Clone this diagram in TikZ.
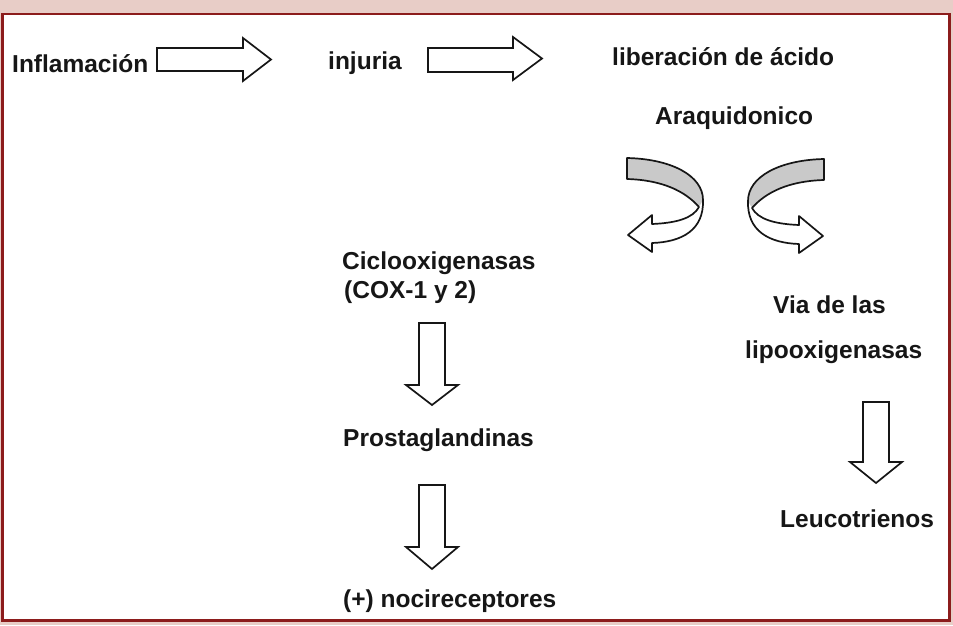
\documentclass[tikz,border=0pt]{standalone}
\usepackage{fontspec}
\setmainfont{Liberation Sans}
\usetikzlibrary{positioning}

\definecolor{marco}{HTML}{8C1C1C}
\definecolor{fondo}{HTML}{E8CDC7}
\definecolor{cinta}{HTML}{C9C9C9}
\definecolor{tinta}{HTML}{161616}

\tikzset{
  etiqueta/.style={anchor=base west, inner sep=0pt, text=tinta,
    font=\fontsize{24.5pt}{29pt}\selectfont\bfseries},
  bloque/.style={draw=tinta, line width=1.7pt, fill=white, line join=miter},
  giro/.style={draw=tinta, line width=1.7pt, line join=round}
}

\begin{document}
\begin{tikzpicture}[x=1pt, y=-1pt]
    \useasboundingbox (0,0) rectangle (953,625);
    % background and frame
    \fill[fondo] (0,0) rectangle (953,625);
    \draw[marco, line width=2.5pt, fill=white] (2.5,14) rectangle (949.5,620.5);

    % top row
    \node[etiqueta] (infl) at (12,72) {Inflamación};
    \node[etiqueta] (inj) at (328,69) {injuria};
    \node[etiqueta] (lib) at (612,65) {liberación de ácido};
    \node[etiqueta] (ara) at (655,124) {Araquidonico};

    % block arrows to the right
    \coordinate (a1) at (157,48);
    \draw[bloque] (a1) -- ++(86,0) -- ++(0,-10) -- ++(28,21.5) -- ++(-28,21.5)
        -- ++(0,-10) -- ++(-86,0) -- cycle;
    \coordinate (a2) at (428,48);
    \draw[bloque] (a2) -- ++(85,0) -- ++(0,-11) -- ++(29,21.5) -- ++(-29,21.5)
        -- ++(0,-8) -- ++(-85,0) -- cycle;

    % twisted arrow to the left
    \begin{scope}[shift={(627,158)}]
        \fill[cinta] (0,0) .. controls (45,1) and (76,18) .. (76,42) -- (72,49)
            .. controls (58,33) and (35,22) .. (0,21) -- cycle;
        \draw[giro] (0,0) .. controls (45,1) and (76,18) .. (76,42)
            .. controls (77,72) and (55,84) .. (25,85) -- (25,94) -- (1,77)
            -- (25,57) -- (25,66) .. controls (50,65) and (66,60) .. (72,49)
            .. controls (58,33) and (35,22) .. (0,21) -- cycle;
    \end{scope}
    % twisted arrow to the right
    \begin{scope}[shift={(824,159)}, xscale=-1]
        \fill[cinta] (0,0) .. controls (45,1) and (76,18) .. (76,42) -- (72,49)
            .. controls (58,33) and (35,22) .. (0,21) -- cycle;
        \draw[giro] (0,0) .. controls (45,1) and (76,18) .. (76,42)
            .. controls (77,72) and (55,84) .. (25,85) -- (25,94) -- (1,77)
            -- (25,57) -- (25,66) .. controls (50,65) and (66,60) .. (72,49)
            .. controls (58,33) and (35,22) .. (0,21) -- cycle;
    \end{scope}

    % left branch
    \node[etiqueta] (cox) at (342,269) {Ciclooxigenasas};
    \node[etiqueta] (coxb) at (344,298) {(COX-1 y 2)};
    \coordinate (d1) at (419,323);
    \draw[bloque] (d1) -- ++(0,62) -- ++(-13,0) -- ++(26,20) -- ++(26,-20)
        -- ++(-13,0) -- ++(0,-62) -- cycle;
    \node[etiqueta] (pros) at (343,446) {Prostaglandinas};
    \coordinate (d2) at (419,485);
    \draw[bloque] (d2) -- ++(0,62) -- ++(-13,0) -- ++(26,22) -- ++(26,-22)
        -- ++(-13,0) -- ++(0,-62) -- cycle;
    \node[etiqueta] (noci) at (343,607) {(+) nocireceptores};

    % right branch
    \node[etiqueta] (via) at (773,313) {Via de las};
    \node[etiqueta] (lipo) at (745,358) {lipooxigenasas};
    \coordinate (d3) at (863,402);
    \draw[bloque] (d3) -- ++(0,60) -- ++(-13,0) -- ++(26,21) -- ++(26,-21)
        -- ++(-13,0) -- ++(0,-60) -- cycle;
    \node[etiqueta] (leuco) at (780,527) {Leucotrienos};
\end{tikzpicture}
\end{document}
